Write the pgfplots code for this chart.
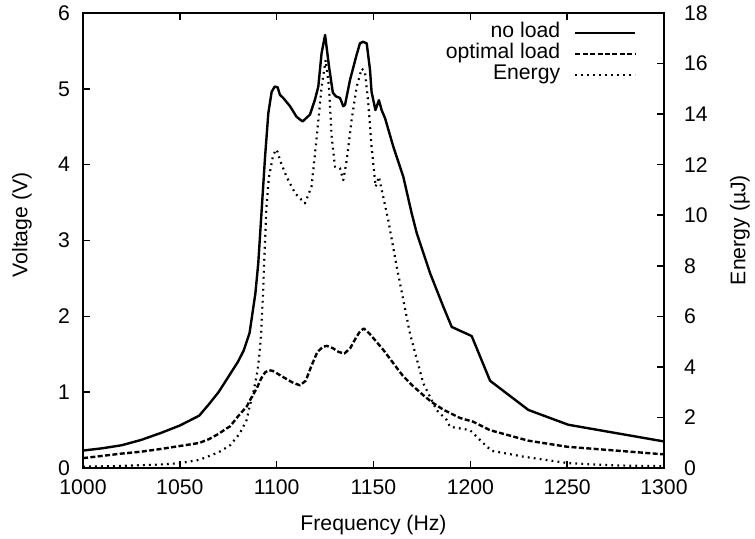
\documentclass[border=0pt]{standalone}
\usepackage{pgfplots}
\pgfplotsset{compat=1.18}
\usepackage{fontspec}
\setmainfont{Liberation Sans}
\begin{document}
\begin{tikzpicture}[font=\fontsize{10.6}{12.7}\selectfont]
\pgfplotsset{
  common/.style={
    scale only axis, width=290.5pt, height=227.5pt,
    xmin=1000, xmax=1300,
    /pgf/number format/assume math mode=true,
    /pgf/number format/1000 sep={},
    tick style={line width=0.8pt, black},
    major tick length=3.5pt,
    tick align=inside,
    axis line style={line width=1pt},
    every axis plot/.append style={line width=1.2pt, black, line join=round},
  },
  sol/.style={solid, line width=1.2pt},
  dsh/.style={dash pattern=on 2.5pt off 1.2pt, line width=1.2pt},
  dtt/.style={dash pattern=on 0.9pt off 2.1pt, line width=1.1pt},
}
\begin{axis}[common,
  ymin=0, ymax=18, ytick={0,2,...,18},
  axis x line=none, axis y line*=right,
  yticklabel style={xshift=6.5pt},
  ylabel={Energy (µJ)},
  ylabel style={at={(axis description cs:1.1308,0.523)}, anchor=center},
]
\addplot[dtt] coordinates {
(1000,0.05) (1020,0.08) (1040,0.14) (1050,0.19) (1060,0.32) (1070,0.62)
(1076,0.9) (1081,1.37) (1084.5,1.9) (1086,2.43) (1088,3.0) (1090,3.8)
(1091,4.4) (1092,5.3) (1093,7.0) (1094,9.0) (1094.6,10.2) (1096,11.5)
(1098,12.3) (1099.5,12.6) (1100.5,12.5) (1101.7,12.18) (1105.1,11.52)
(1109.5,10.87) (1114.6,10.47) (1118,11.13) (1120.7,13.1) (1123.2,15.08)
(1125.3,16.14) (1127,15.1) (1128.4,13.1) (1130.1,11.92) (1132.7,11.86)
(1134.4,11.39) (1136.2,12.18) (1138.7,13.77) (1141.3,15.08) (1143.9,15.8)
(1145.6,15.68) (1147.3,14.43) (1149,12.71) (1151.1,11.13) (1152.8,11.52)
(1155,10.73) (1157.6,9.81) (1162,7.96) (1168.8,5.33) (1175.7,3.35)
(1182.6,2.29) (1187.8,1.9) (1189.5,1.63) (1199.8,1.50) (1206.7,0.98)
(1211,0.68) (1227.3,0.45) (1250.6,0.19) (1275,0.1) (1300,0.07)
};
\end{axis}
\begin{axis}[common, name=main,
  ymin=0, ymax=6, ytick={0,...,6},
  xtick={1000,1050,...,1300},
  ytick pos=left, xtick pos=both,
  yticklabel style={xshift=-3pt},
  xticklabel style={yshift=-2.5pt},
  xlabel={Frequency (Hz)},
  ylabel={Voltage (V)},
  xlabel style={at={(axis description cs:0.5,-0.1253)}, anchor=center},
  ylabel style={at={(axis description cs:-0.105,0.534)}, anchor=center},
  legend plot pos=right,
  legend cell align=right,
  legend style={at={(axis description cs:0.9535,0.9804)}, anchor=north east,
    draw=none, fill=none, inner sep=0pt, column sep=7pt, row sep=0pt,
    nodes={inner sep=0pt, text height=7.7pt, text depth=2.8pt}},
  legend image code/.code={\draw[#1] (0pt,0pt) -- (30pt,0pt);},
]
\addplot[sol] coordinates {
(1000,0.23) (1010,0.26) (1020,0.30) (1030,0.37) (1040,0.46) (1050,0.56)
(1060,0.69) (1065,0.84) (1070,1.00) (1075,1.20) (1080,1.40) (1083,1.55)
(1086,1.78) (1089,2.3) (1090.5,2.7) (1092,3.3) (1094,4.1) (1095.7,4.68)
(1097.4,4.96) (1099,5.03) (1100.5,5.02) (1101.7,4.92) (1103.4,4.88)
(1106.9,4.77) (1110.3,4.63) (1113.4,4.57) (1117.2,4.66) (1119.8,4.86)
(1121.5,5.03) (1123.2,5.47) (1125,5.71) (1127,5.3) (1129,4.95)
(1130.6,4.9) (1132.7,4.88) (1134.4,4.77) (1135.3,4.79) (1137.9,5.12)
(1141.3,5.45) (1143,5.6) (1144.6,5.62) (1146.5,5.6) (1148.2,5.25)
(1149,4.96) (1151,4.72) (1152.8,4.85) (1154.2,4.72) (1156,4.61)
(1160.2,4.24) (1165.4,3.84) (1169.7,3.36) (1172.3,3.10) (1179.2,2.57)
(1184.3,2.24) (1186,2.13) (1190.4,1.86) (1200.7,1.74) (1210.2,1.15)
(1230,0.765) (1250.6,0.57) (1300,0.35)
};
\addlegendentry{no load}
\addplot[dsh] coordinates {
(1000,0.13) (1010,0.16) (1020,0.19) (1030,0.215) (1040,0.25) (1050,0.29)
(1060,0.33) (1065,0.38) (1070,0.45) (1074,0.52) (1076,0.55) (1080,0.68)
(1084.5,0.81) (1087,0.93) (1089.7,1.05) (1092,1.18) (1094,1.26)
(1096,1.29) (1098,1.28) (1100,1.25) (1104,1.19) (1108,1.13) (1112,1.09)
(1115,1.15) (1118,1.35) (1121,1.53) (1124,1.60) (1126,1.61) (1129,1.58)
(1132,1.53) (1135,1.51) (1138,1.58) (1141,1.72) (1143,1.80) (1145,1.84)
(1148,1.77) (1151,1.68) (1155,1.56) (1160,1.39) (1165,1.22) (1170,1.09)
(1175.7,0.96) (1180,0.87) (1186,0.77) (1194.6,0.66) (1201.5,0.61)
(1210,0.50) (1230,0.36) (1250,0.28) (1275,0.23) (1300,0.18)
};
\addlegendentry{optimal load}
\addlegendimage{dtt}
\addlegendentry{Energy}
\end{axis}
\pgfresetboundingbox
\path (-41.5pt,-35.5pt) rectangle (336pt,234pt);
\end{tikzpicture}
\end{document}
